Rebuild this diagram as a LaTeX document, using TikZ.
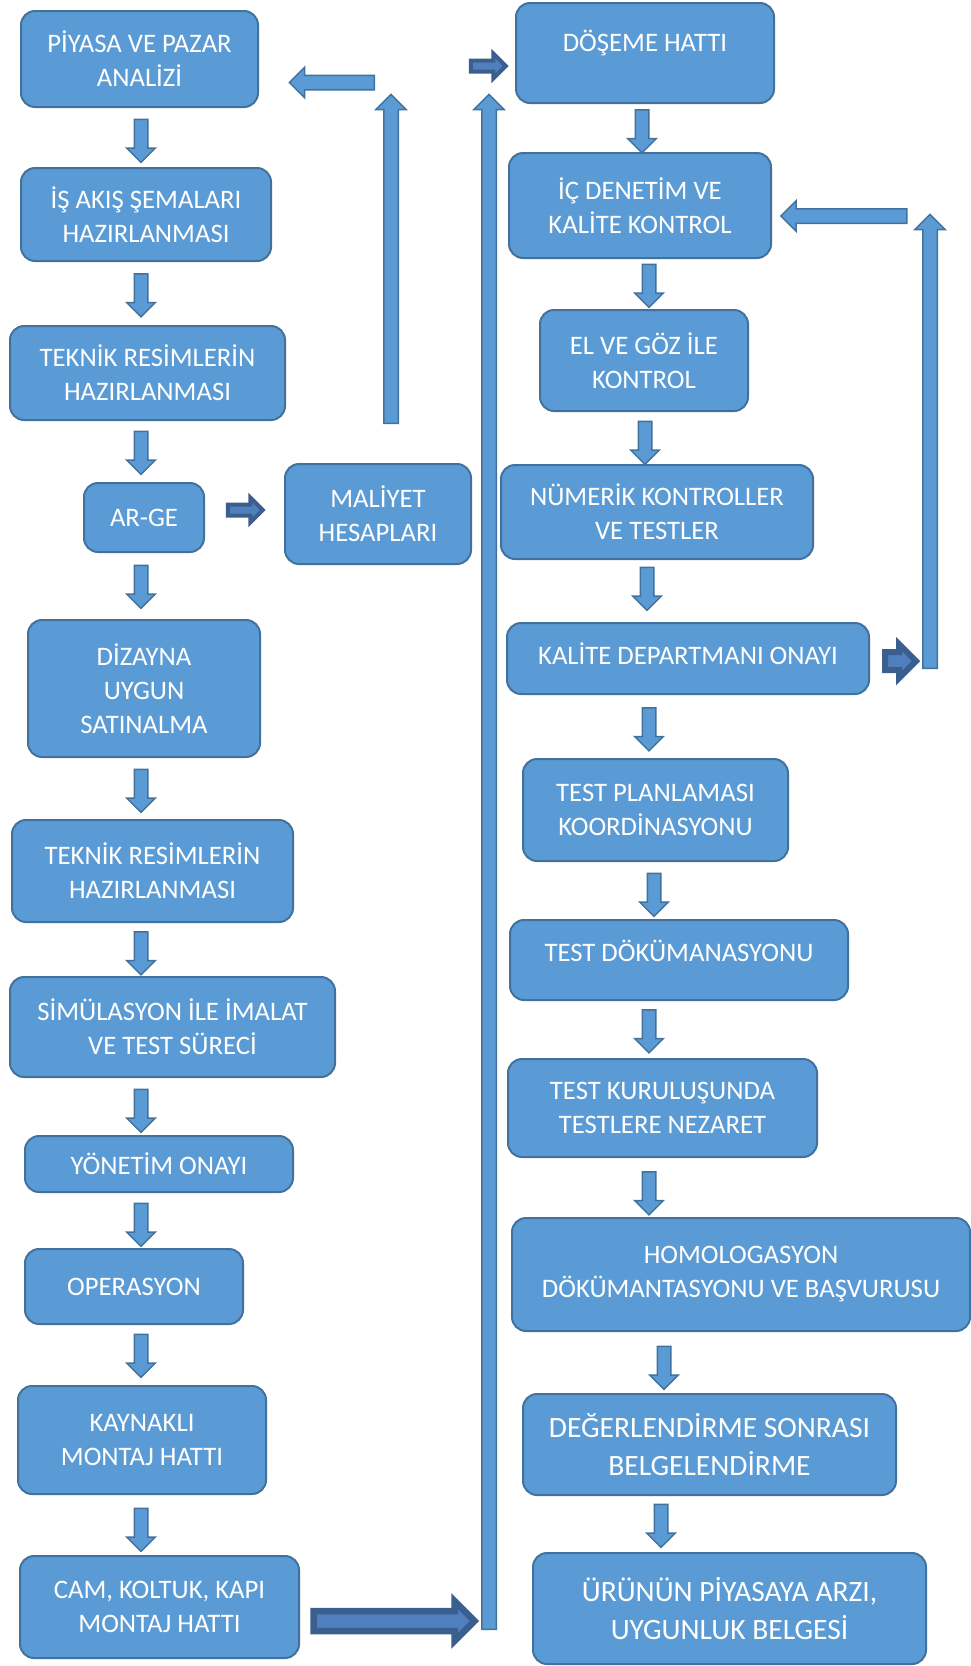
\documentclass[tikz,border=0pt]{standalone}
\usepackage{fontspec}
\setmainfont{Carlito}
\usetikzlibrary{shapes.arrows}
\definecolor{boxfill}{HTML}{5B9BD5}
\definecolor{boxline}{HTML}{41719C}
\definecolor{arrdark}{HTML}{3A5F8E}
\definecolor{arrinner}{HTML}{4F80BD}

\begin{document}
\begin{tikzpicture}[x=1pt, y=-1pt,
  box/.style={rectangle, draw=boxline, fill=boxfill, line width=2pt, rounded corners=14pt, text=white, align=center, inner sep=0pt, font=\fontsize{26.7}{34}\selectfont},
  bigbox/.style={box, font=\fontsize{29.5}{38}\selectfont},
  flow/.style={single arrow, draw=boxline, fill=boxfill, line width=1.5pt, inner xsep=0pt, inner ysep=6pt, single arrow head extend=7.5pt, minimum height=43pt},
  down/.style={flow, rotate=-90},
  back/.style={flow, inner ysep=6.5pt, single arrow head extend=8pt},
  push/.style={single arrow, draw=arrdark, fill=arrinner, line width=4pt, inner xsep=0pt, inner ysep=3.5pt, single arrow head extend=7pt, minimum height=35pt}
]
  \useasboundingbox (0,0) rectangle (971,1666);

  % left column
  \node[box, minimum width=237pt, minimum height=96pt] (piyasa) at (139.5,59) {PİYASA VE PAZAR\\ANALİZİ};
  \node[box, minimum width=250pt, minimum height=93pt] (isakis) at (146,214.5) {İŞ AKIŞ ŞEMALARI\\HAZIRLANMASI};
  \node[box, minimum width=275pt, minimum height=94pt] (teknik1) at (147.5,373) {TEKNİK RESİMLERİN\\HAZIRLANMASI};
  \node[box, minimum width=120pt, minimum height=69pt] (arge) at (144,517.5) {AR-GE};
  \node[box, minimum width=186pt, minimum height=100pt] (maliyet) at (378,514) {MALİYET\\HESAPLARI};
  \node[box, minimum width=232pt, minimum height=137pt] (dizayn) at (144,688.5) {DİZAYNA\\UYGUN\\SATINALMA};
  \node[box, minimum width=281pt, minimum height=102pt] (teknik2) at (152.5,871) {TEKNİK RESİMLERİN\\HAZIRLANMASI};
  \node[box, minimum width=325pt, minimum height=100pt] (simul) at (172.5,1027) {SİMÜLASYON İLE İMALAT\\VE TEST SÜRECİ};
  \node[box, minimum width=268pt, minimum height=56pt] (yonetim) at (159,1164) {YÖNETİM ONAYI};
  \node[box, minimum width=218pt, minimum height=75pt] (operasyon) at (134,1286.5) {OPERASYON};
  \node[box, minimum width=248pt, minimum height=108pt] (kaynakli) at (142,1440) {KAYNAKLI\\MONTAJ HATTI};
  \node[box, minimum width=279pt, minimum height=102pt] (cam) at (159.5,1607) {CAM, KOLTUK, KAPI\\MONTAJ HATTI};

  % right column
  \node[box, minimum width=258pt, minimum height=100pt] (doseme) at (645,53) {DÖŞEME HATTI\\[-10pt]~};
  \node[box, minimum width=262pt, minimum height=105pt] (icdenetim) at (640,205.5) {İÇ DENETİM VE\\KALİTE KONTROL};
  \node[box, minimum width=208pt, minimum height=101pt] (elgoz) at (644,360.5) {EL VE GÖZ İLE\\KONTROL};
  \node[box, minimum width=312pt, minimum height=94pt] (numerik) at (657,512) {NÜMERİK KONTROLLER\\VE TESTLER};
  \node[box, minimum width=362pt, minimum height=71pt, text depth=10pt] (kalitedep) at (688,658.5) {KALİTE DEPARTMANI ONAYI};
  \node[box, minimum width=265pt, minimum height=102pt] (testplan) at (655.5,810) {TEST PLANLAMASI\\KOORDİNASYONU};
  \node[box, minimum width=338pt, minimum height=80pt, text depth=19pt] (testdok) at (679,960) {TEST DÖKÜMANASYONU};
  \node[box, minimum width=309pt, minimum height=98pt] (testkur) at (662.5,1108) {TEST KURULUŞUNDA\\TESTLERE NEZARET};
  \node[box, minimum width=458pt, minimum height=113pt] (homolog) at (741,1274.5) {HOMOLOGASYON\\DÖKÜMANTASYONU VE BAŞVURUSU};
  \node[bigbox, minimum width=373pt, minimum height=101pt] (degerlendirme) at (709.5,1444.5) {DEĞERLENDİRME SONRASI\\BELGELENDİRME};
  \node[bigbox, minimum width=393pt, minimum height=111pt] (urunun) at (729.5,1608.5) {ÜRÜNÜN PİYASAYA ARZI,\\UYGUNLUK BELGESİ};

  % down arrows, left column
  \node[down] (a1) at (141,137.5) {};
  \node[down] (a2) at (141,292) {};
  \node[down] (a3) at (141,449.5) {};
  \node[down] (a4) at (141,583.5) {};
  \node[down] (a5) at (141,787.5) {};
  \node[down] (a6) at (141,950) {};
  \node[down] (a7) at (141,1107.5) {};
  \node[down] (a8) at (141,1221.5) {};
  \node[down] (a9) at (141,1352.5) {};
  \node[down] (a10) at (141,1526.5) {};

  % down arrows, right column
  \node[down] (b1) at (642,128) {};
  \node[down] (b2) at (649,282.5) {};
  \node[down] (b3) at (645,439.5) {};
  \node[down] (b4) at (647,585.5) {};
  \node[down] (b5) at (649,726) {};
  \node[down] (b6) at (654,891.5) {};
  \node[down] (b7) at (649,1028) {};
  \node[down] (b8) at (649,1190) {};
  \node[down] (b9) at (664,1364.5) {};
  \node[down] (b10) at (661,1522.5) {};

  % feedback arrows
  \node[back, rotate=90, minimum height=329pt] (upmaliyet) at (391,262.5) {};
  \node[back, rotate=180, minimum height=85pt] (topiyasa) at (335.5,82.5) {};
  \node[back, rotate=90, minimum height=1535pt] (upline) at (489,865.5) {};
  \node[back, rotate=90, minimum height=454pt] (upkalite) at (930,445) {};
  \node[back, rotate=180, minimum height=126pt] (toicdenetim) at (847.5,216) {};

  % dark push arrows
  \node[push] (todoseme) at (485.5,66) {};
  \node[push] (tomaliyet) at (242.5,510) {};
  \node[push, line width=6pt, inner ysep=6pt, single arrow head extend=8pt, minimum height=31pt] (fromkalite) at (896,661) {};
  \node[push, line width=6.5pt, inner ysep=6.75pt, single arrow head extend=10pt, minimum height=161pt] (fromcam) at (389,1621) {};
\end{tikzpicture}
\end{document}
